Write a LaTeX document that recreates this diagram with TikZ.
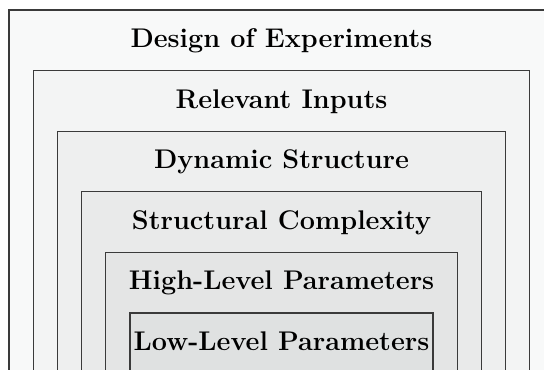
\documentclass[tikz,border=0pt]{standalone}
\usepackage{tikz}
\definecolor{lvA}{HTML}{F8F9F9}
\definecolor{lvB}{HTML}{F3F4F4}
\definecolor{lvC}{HTML}{EEEFEF}
\definecolor{lvD}{HTML}{E9EAEA}
\definecolor{lvE}{HTML}{E4E5E5}
\definecolor{lvF}{HTML}{DFE1E1}
\definecolor{edgegray}{HTML}{3A3A3A}
\tikzset{
  layer/.style={draw=edgegray, line width=0.6pt},
  layertitle/.style={anchor=base, inner sep=0pt, font=\fontsize{13.5}{16}\selectfont\bfseries}
}
\begin{document}
\begin{tikzpicture}[x=0.5pt, y=-0.5pt]
  \useasboundingbox (0,0) rectangle (544,369);
  \fill[white] (0,0) rectangle (544,369);
  \clip (0,0) rectangle (544,369);
  % nested layers, each open below the visible area
  \foreach \k/\col/\txt/\nm in {
      0/lvA/Design of Experiments/doe,
      1/lvB/Relevant Inputs/inputs,
      2/lvC/Dynamic Structure/dyn,
      3/lvD/Structural Complexity/cplx,
      4/lvE/High-Level Parameters/high,
      5/lvF/Low-Level Parameters/low} {
    \pgfmathsetmacro{\lx}{9+24.2*\k}
    \pgfmathsetmacro{\rx}{554-24.2*\k}
    \pgfmathsetmacro{\ty}{10+60.6*\k}
    \filldraw[layer, fill=\col] (\lx,420) -- (\lx,\ty) -- (\rx,\ty) -- (\rx,420);
    \node[layertitle] (\nm) at (281.5,\ty+37.5) {\txt};
  }
\end{tikzpicture}
\end{document}
